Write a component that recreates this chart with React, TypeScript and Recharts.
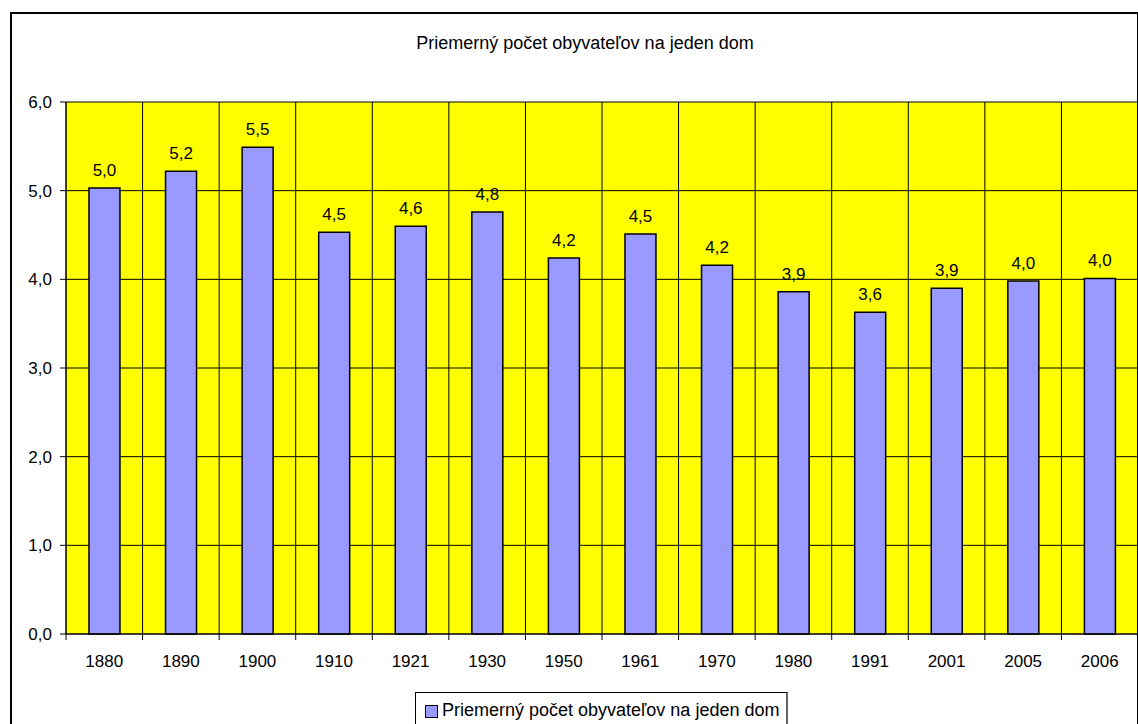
import { Bar, BarChart, CartesianGrid, LabelList, XAxis, YAxis } from "recharts";

const years = ["1880", "1890", "1900", "1910", "1921", "1930", "1950", "1961", "1970", "1980", "1991", "2001", "2005", "2006"];
const avgPerHouse = [5.03, 5.22, 5.49, 4.53, 4.6, 4.76, 4.24, 4.51, 4.16, 3.86, 3.63, 3.9, 3.98, 4.01];
const yTicks = [0, 1, 2, 3, 4, 5, 6];
const title = "Priemerný počet obyvateľov na jeden dom";

const data = years.map((y, i) => ({ year: y, value: avgPerHouse[i] }));

const font = "'Liberation Sans', Arial, sans-serif";
const fmt = (v: any) => Number(v).toFixed(1).replace(".", ",");

// category labels sit in the middle, tick marks sit on the category borders
const XTick = (props: any) => {
  const { x, y, payload, width, visibleTicksCount } = props;
  const half = payload?.offset || width / visibleTicksCount / 2;
  return (
    <g>
      <line x1={x - half} x2={x - half} y1={y - 21} y2={y - 15} stroke="#000" />
      <text x={x} y={y} dy="0.71em" textAnchor="middle" fontSize={17} fill="#000" fontFamily={font}>
        {payload.value}
      </text>
    </g>
  );
};

const App = () => {
  return (
    <div style={{ position: "fixed", left: 0, top: 0, width: 1138, height: 724, overflow: "hidden", background: "#fff", fontFamily: font }}>
      <div style={{ position: "absolute", left: 10, top: 12, width: 1125, height: 760, border: "2px solid #000" }} />
      <div style={{ position: "absolute", left: 0, top: 34, width: 1170, textAlign: "center", fontSize: 18, lineHeight: "18px", color: "#000" }}>
        {title}
      </div>
      <div style={{ position: "absolute", left: 0, top: 0 }}>
        <BarChart width={1138} height={724} data={data} margin={{ top: 102, right: 0, bottom: 60, left: 10 }} barCategoryGap="30%">
          <CartesianGrid
            stroke="#000"
            fill="#FFFF00"
            fillOpacity={1}
            verticalCoordinatesGenerator={({ offset }: any) =>
              [...years.map((_, i) => offset.left + (i * offset.width) / years.length), offset.left + offset.width - 0.5]
            }
          />
          <XAxis dataKey="year" height={30} tickLine={false} tickSize={6} tickMargin={15} axisLine={{ stroke: "#000" }} tick={<XTick />} interval={0} />
          <YAxis
            width={56}
            domain={[0, 6]}
            ticks={yTicks}
            tickFormatter={fmt}
            tickSize={6}
            tickMargin={8}
            axisLine={{ stroke: "#000" }}
            tickLine={{ stroke: "#000" }}
            tick={{ fontSize: 17, fill: "#000", fontFamily: font }}
          />
          <Bar dataKey="value" fill="#9999FF" stroke="#000" strokeWidth={1.5} isAnimationActive={false}>
            <LabelList dataKey="value" position="top" offset={12} formatter={fmt} style={{ fontSize: 17, fill: "#000", fontFamily: font }} />
          </Bar>
        </BarChart>
      </div>
      <div style={{ position: "absolute", left: 415, top: 692, width: 370, height: 50, border: "1px solid #000", borderRightColor: "#666", borderRightWidth: 2, background: "#fff" }}>
        <div style={{ position: "absolute", left: 9, top: 12, width: 11, height: 11, background: "#9999FF", border: "1px solid #000" }} />
        <div style={{ position: "absolute", left: 26, top: 8, fontSize: 18, lineHeight: "18px", whiteSpace: "nowrap", color: "#000" }}>{title}</div>
      </div>
    </div>
  );
};

export default App;
